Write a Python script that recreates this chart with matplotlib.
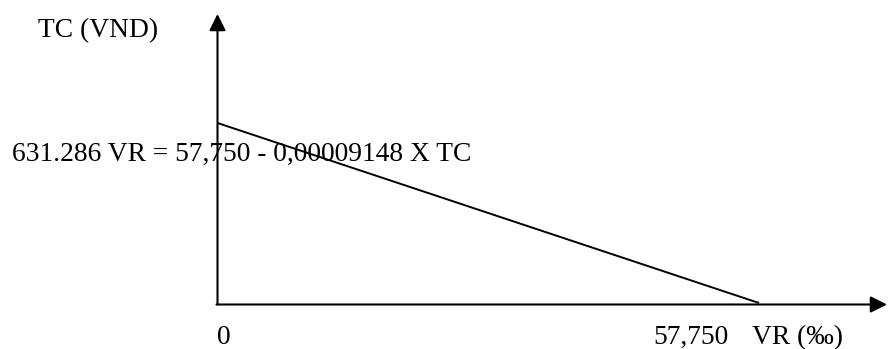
import matplotlib
matplotlib.use("Agg")
import matplotlib.pyplot as plt

# data: VR = 57,750 - 0,00009148 x TC
vr = [0, 57.75]
tc = [631286, 0]
y_label = "TC (VND)"
x_label = "VR (‰)"
equation = "631.286 VR = 57,750 - 0,00009148 X TC"
x_ticks = ["0", "57,750"]

W, H = 888, 349
plt.rcParams['font.family'] = ['Liberation Serif', 'DejaVu Serif']

fig = plt.figure(figsize=(W / 100, H / 100), dpi=100)
ax = fig.add_axes([0, 0, 1, 1])
ax.axis('off')

# pixel anchors for the origin and the two intercepts
x0_px, x1_px = 217.5, 759
y0_px, y1_px = 303, 123
sx = (x1_px - x0_px) / vr[1]
sy = (y0_px - y1_px) / tc[0]
ax.set_xlim(-x0_px / sx, (W - x0_px) / sx)
ax.set_ylim((y0_px - H) / sy, y0_px / sy)

# the line
ax.plot(vr, tc, color='black', lw=1.4, solid_capstyle='butt')

# axes with arrows
ox, oy = 0, -1.5 / sy
arrow = dict(arrowstyle='-|>,head_length=0.5,head_width=0.25', lw=1.5,
             color='black', shrinkA=0, shrinkB=0, mutation_scale=20)
ax.annotate('', xy=(ox, y0_px / sy - 14 / sy), xytext=(ox, oy), arrowprops=arrow)
ax.annotate('', xy=((W - 1 - x0_px) / sx, oy), xytext=(ox - 1 / sx, oy), arrowprops=arrow)

# texts
fs = 19.8
def put(s, px, py):
    fig.text(px / W, 1 - py / H, s, fontsize=fs, ha='left', va='baseline')

put(y_label, 38, 37)
put(equation, 12, 161)
put(x_ticks[0], 217, 344)
put(x_ticks[1], 653, 344)
put(x_label, 752, 344)

fig.savefig('out.png', dpi=100)
